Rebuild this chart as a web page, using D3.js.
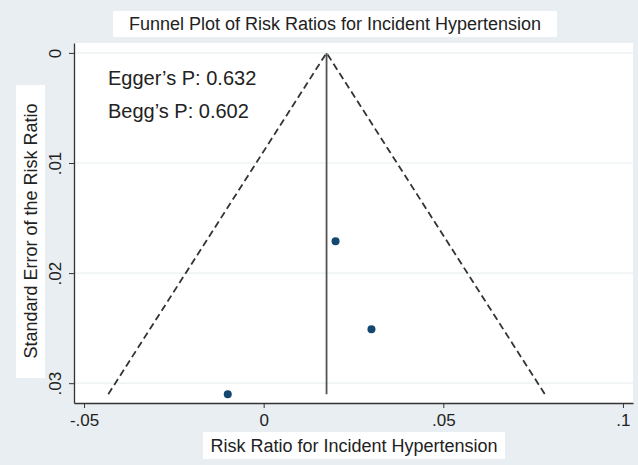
<!DOCTYPE html>
<html>
<head>
<meta charset="utf-8">
<script src="https://cdn.jsdelivr.net/npm/d3@7"></script>
<style>
  body { margin: 0; background: #e8eef2; }
  svg { display: block; font-family: "Liberation Sans", Arial, sans-serif; }
</style>
</head>
<body>
<div id="chart"></div>
<script>
// Study data (risk ratio estimate vs its standard error)
const effects = [0.020, 0.030, -0.010];
const stdErrors = [0.0171, 0.0251, 0.031];
const pooled = 0.0175;
const xTicks = [-0.05, 0, 0.05, 0.1];
const xTickLabels = ["-.05", "0", ".05", ".1"];
const yTicks = [0, 0.01, 0.02, 0.03];
const yTickLabels = ["0", ".01", ".02", ".03"];
const notes = ["Egger\u2019s P: 0.632", "Begg\u2019s P: 0.602"];

const width = 638, height = 465;
const svg = d3.select("#chart").append("svg")
  .attr("width", width)
  .attr("height", height);

svg.append("rect").attr("width", width).attr("height", height).attr("fill", "#e8eef2");

const x = d3.scaleLinear().domain([-0.0528, 0.1028]).range([74, 633]);
const y = d3.scaleLinear().domain([-0.0009, 0.0318]).range([43, 403]);

// plot region
svg.append("rect")
  .attr("x", x.range()[0]).attr("y", y.range()[0])
  .attr("width", x.range()[1] - x.range()[0])
  .attr("height", y.range()[1] - y.range()[0])
  .attr("fill", "#fff");

// grid
svg.selectAll(".grid").data(yTicks).join("line")
  .attr("class", "grid")
  .attr("x1", x.range()[0]).attr("x2", x.range()[1])
  .attr("y1", d => y(d)).attr("y2", d => y(d))
  .attr("stroke", "#eaf0f2").attr("stroke-width", 1.2);

// title
const titleG = svg.append("g");
titleG.append("rect").attr("x", 113).attr("y", 11).attr("width", 444).attr("height", 26).attr("fill", "#fff");
titleG.append("text").attr("x", 335).attr("y", 30).attr("text-anchor", "middle")
  .attr("font-size", 18).attr("fill", "#222")
  .text("Funnel Plot of Risk Ratios for Incident Hypertension");

// axes
const xAxis = svg.append("g")
  .attr("transform", `translate(0,${y.range()[1]})`)
  .call(d3.axisBottom(x).tickValues(xTicks).tickSize(5).tickSizeOuter(0)
    .tickFormat((d, i) => xTickLabels[i]));
xAxis.select(".domain").attr("stroke", "#333").attr("stroke-width", 1.3);
xAxis.selectAll(".tick line").attr("stroke", "#333");
xAxis.selectAll(".tick text").attr("font-size", 17).attr("fill", "#222").attr("dy", "0.9em");

const yAxis = svg.append("g")
  .attr("transform", `translate(${x.range()[0]},0)`)
  .call(d3.axisLeft(y).tickValues(yTicks).tickSize(5).tickSizeOuter(0)
    .tickFormat((d, i) => yTickLabels[i]));
yAxis.select(".domain").attr("stroke", "#333").attr("stroke-width", 1.3);
yAxis.selectAll(".tick line").attr("stroke", "#333");
yAxis.selectAll(".tick text")
  .attr("font-size", 17).attr("fill", "#222")
  .attr("x", null).attr("dy", null)
  .attr("text-anchor", "middle")
  .attr("transform", "translate(-13,0) rotate(-90)");

// axis titles
svg.append("rect").attr("x", 203).attr("y", 432).attr("width", 302).attr("height", 27).attr("fill", "#fff");
svg.append("text").attr("x", 354).attr("y", 452).attr("text-anchor", "middle")
  .attr("font-size", 18).attr("fill", "#222")
  .text("Risk Ratio for Incident Hypertension");

svg.append("rect").attr("x", 16).attr("y", 85).attr("width", 29).attr("height", 293).attr("fill", "#fff");
svg.append("text")
  .attr("transform", "translate(37,231) rotate(-90)")
  .attr("text-anchor", "middle")
  .attr("font-size", 18).attr("fill", "#222")
  .text("Standard Error of the Risk Ratio");

// funnel
const maxSe = d3.max(stdErrors);
const funnel = [
  [pooled - 1.96 * maxSe, maxSe],
  [pooled, 0],
  [pooled + 1.96 * maxSe, maxSe]
];
svg.append("path")
  .attr("d", d3.line().x(d => x(d[0])).y(d => y(d[1]))(funnel))
  .attr("fill", "none").attr("stroke", "#333").attr("stroke-width", 1.8)
  .attr("stroke-dasharray", "7,4");

svg.append("line")
  .attr("x1", x(pooled)).attr("x2", x(pooled))
  .attr("y1", y(0)).attr("y2", y(maxSe))
  .attr("stroke", "#555").attr("stroke-width", 1.8);

// studies
svg.selectAll(".dot").data(effects).join("circle")
  .attr("class", "dot")
  .attr("cx", d => x(d))
  .attr("cy", (d, i) => y(stdErrors[i]))
  .attr("r", 4)
  .attr("fill", "#14476f");

// test results
svg.selectAll(".note").data(notes).join("text")
  .attr("class", "note")
  .attr("x", 108)
  .attr("y", (d, i) => 85 + i * 33)
  .attr("font-size", 20).attr("fill", "#222")
  .text(d => d);
</script>
</body>
</html>
